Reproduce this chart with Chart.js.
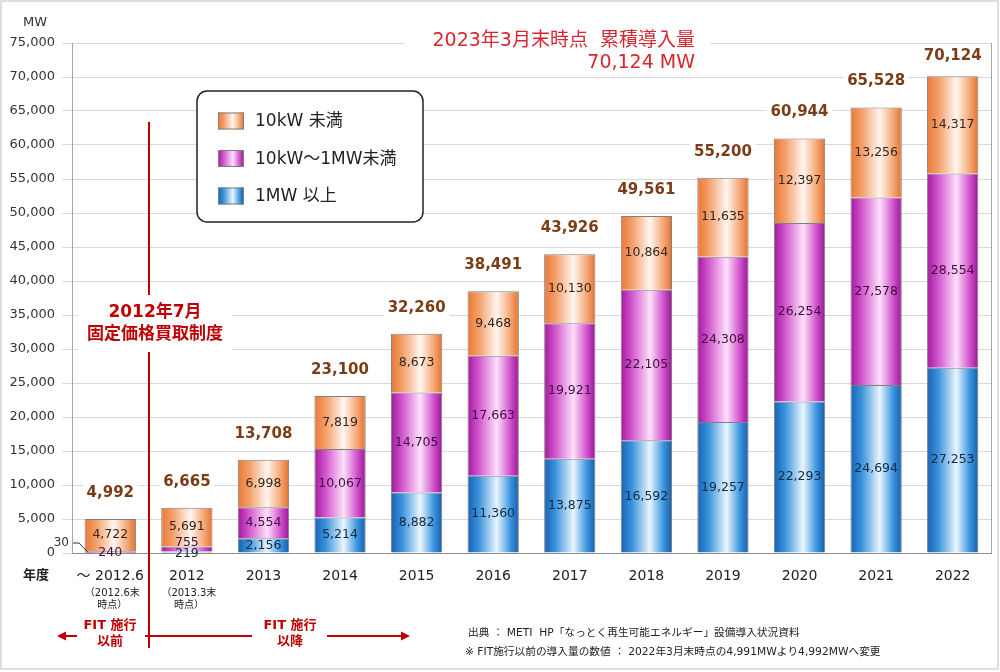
<!DOCTYPE html>
<html lang="ja">
<head>
<meta charset="utf-8">
<title>太陽光発電 累積導入量</title>
<script src="https://cdn.jsdelivr.net/npm/chart.js@4.4.1/dist/chart.umd.min.js"></script>
<style>
  html, body { margin: 0; padding: 0; background: #fff; }
  #wrap { position: relative; width: 1000px; height: 672px; }
</style>
</head>
<body>
<div id="wrap"><canvas id="chart"></canvas></div>
<script>
// data (MW)
const categories = ['～ 2012.6', '2012', '2013', '2014', '2015', '2016', '2017', '2018', '2019', '2020', '2021', '2022'];
const subLabels = [['（2012.6末', '時点）'], ['（2013.3末', '時点）']];
const over1MW = [30, 219, 2156, 5214, 8882, 11360, 13875, 16592, 19257, 22293, 24694, 27253];
const from10kWto1MW = [240, 755, 4554, 10067, 14705, 17663, 19921, 22105, 24308, 26254, 27578, 28554];
const under10kW = [4722, 5691, 6998, 7819, 8673, 9468, 10130, 10864, 11635, 12397, 13256, 14317];
const totals = [4992, 6665, 13708, 23100, 32260, 38491, 43926, 49561, 55200, 60944, 65528, 70124];
const yMax = 75000;
const yStep = 5000;

const FONT = '"DejaVu Sans", "Noto Sans CJK JP", sans-serif';
const BAR_PCT = 0.67;
const RED = '#c00000';

const fmt = v => Number(v).toLocaleString('en-US');

// cylinder-like shading, left edge -> highlight -> right edge
const stops = [0, 0.22, 0.57, 0.83, 1];
const palette = {
  under: ['#ea7836', '#f49e68', '#fff6f0', '#f5a877', '#e5702b'],
  mid:   ['#a2189e', '#d257ce', '#fde0fb', '#d154cd', '#9a1495'],
  over:  ['#1762b2', '#3b93dc', '#eaf6fe', '#3d96df', '#145dac']
};

function cylinder(ctx, x0, x1, colors) {
  const g = ctx.createLinearGradient(x0, 0, x1, 0);
  colors.forEach((c, i) => g.addColorStop(stops[i], c));
  return g;
}

function barFill(colors) {
  return (c) => {
    const chart = c.chart;
    const xs = chart.scales.x;
    if (!chart.chartArea || !xs || c.dataIndex === undefined) return colors[0];
    const cx = xs.getPixelForValue(c.dataIndex);
    const half = xs.width / categories.length * BAR_PCT / 2;
    return cylinder(chart.ctx, cx - half, cx + half, colors);
  };
}

const segTextColor = ['#112a45', '#3f0f3c', '#33261d'];

function whiteBox(ctx, x, y, w, h) {
  ctx.fillStyle = '#fff';
  ctx.fillRect(x, y, w, h);
}

const decor = {
  id: 'decor',
  afterDatasetsDraw(chart) {
    const { ctx, chartArea, scales: { x, y } } = chart;
    ctx.save();

    // right frame of the plot
    ctx.strokeStyle = '#a6a6a6';
    ctx.lineWidth = 1;
    ctx.beginPath();
    ctx.moveTo(chartArea.right + 0.5, chartArea.top);
    ctx.lineTo(chartArea.right + 0.5, chartArea.bottom);
    ctx.stroke();

    // values inside the segments
    ctx.font = `12.5px ${FONT}`;
    ctx.textAlign = 'center';
    ctx.textBaseline = 'middle';
    chart.data.datasets.forEach((ds, i) => {
      const meta = chart.getDatasetMeta(i);
      meta.data.forEach((el, j) => {
        const v = ds.data[j];
        if (v < 100) return; // shown at the axis instead
        const top = el.y, base = el.base;
        let ty = (top + base) / 2;
        if (base - top < 14) {
          if (i === 0) ty = base + 1;
          else ty = chart.data.datasets[0].data[j] >= 100 ? top - 4 : base;
        }
        ctx.fillStyle = segTextColor[i];
        ctx.fillText(fmt(v), el.x, ty);
      });
    });

    // tiny first value with leader line
    const first = chart.getDatasetMeta(0).data[0];
    const y0 = chartArea.bottom;
    ctx.fillStyle = '#333';
    ctx.textAlign = 'right';
    ctx.font = `12px ${FONT}`;
    ctx.fillText(fmt(over1MW[0]), chartArea.left - 3, y0 - 10);
    ctx.strokeStyle = '#333';
    ctx.beginPath();
    ctx.moveTo(chartArea.left + 1, y0 - 10);
    ctx.lineTo(chartArea.left + 7, y0 - 10);
    ctx.lineTo(first.x - first.width / 2 + 3, y0 - 1);
    ctx.stroke();

    // totals above the stacks
    ctx.font = `bold 15px ${FONT}`;
    ctx.textAlign = 'center';
    totals.forEach((t, j) => {
      const cx = x.getPixelForValue(j);
      const ty = Math.max(y.getPixelForValue(t) - 26, 56);
      const w = ctx.measureText(fmt(t)).width + 8;
      whiteBox(ctx, cx - w / 2, ty - 10, w, 20);
      ctx.fillStyle = '#7a3d17';
      ctx.fillText(fmt(t), cx, ty);
    });

    ctx.restore();
  },
  afterDraw(chart) {
    const { ctx, scales: { x } } = chart;
    ctx.save();

    // headline
    whiteBox(ctx, 405, 28, 305, 48);
    ctx.fillStyle = '#d7262e';
    ctx.font = `19px ${FONT}`;
    ctx.textAlign = 'right';
    ctx.textBaseline = 'middle';
    ctx.fillText('2023年3月末時点  累積導入量', 695, 41);
    ctx.fillText('70,124 MW', 695, 63);

    // unit
    ctx.fillStyle = '#333';
    ctx.font = `13px ${FONT}`;
    ctx.textAlign = 'center';
    ctx.fillText('MW', 35, 23);

    // legend
    const lx = 197, ly = 91, lw = 226, lh = 131;
    ctx.beginPath();
    ctx.roundRect(lx, ly, lw, lh, 10);
    ctx.fillStyle = '#fff';
    ctx.fill();
    ctx.strokeStyle = '#222';
    ctx.lineWidth = 1.5;
    ctx.stroke();
    const legendItems = [
      ['10kW 未満', palette.under],
      ['10kW～1MW未満', palette.mid],
      ['1MW 以上', palette.over]
    ];
    ctx.font = `17px ${FONT}`;
    ctx.textAlign = 'left';
    legendItems.forEach(([label, colors], k) => {
      const cy = 121 + k * 37.5;
      ctx.fillStyle = cylinder(ctx, 218, 244, colors);
      ctx.fillRect(218, cy - 8.5, 26, 17);
      ctx.strokeStyle = '#7f7f7f';
      ctx.lineWidth = 1;
      ctx.strokeRect(218.5, cy - 8, 25, 16);
      ctx.fillStyle = '#222';
      ctx.fillText(label, 255, cy + 1);
    });

    // x-axis extras
    ctx.fillStyle = '#222';
    ctx.font = `bold 13px ${FONT}`;
    ctx.textAlign = 'center';
    ctx.fillText('年度', 36, 576);
    ctx.font = `10px ${FONT}`;
    subLabels.forEach((lines, j) => {
      const cx = x.getPixelForValue(j) + 2;
      lines.forEach((s, k) => ctx.fillText(s, cx, 593 + k * 12));
    });

    // FIT start line
    const fx = Math.round((x.getPixelForValue(0) + x.getPixelForValue(1)) / 2);
    whiteBox(ctx, 78, 295, 154, 57);
    ctx.strokeStyle = RED;
    ctx.lineWidth = 2;
    ctx.beginPath();
    ctx.moveTo(fx, 122); ctx.lineTo(fx, 295);
    ctx.moveTo(fx, 352); ctx.lineTo(fx, 648);
    ctx.stroke();
    ctx.fillStyle = RED;
    ctx.font = `bold 17px ${FONT}`;
    ctx.fillText('2012年7月', fx + 6, 313);
    ctx.fillText('固定価格買取制度', fx + 6, 335);

    // FIT before / after arrows
    const ay = 636;
    const arrowHead = (tipX, dir) => {
      ctx.beginPath();
      ctx.moveTo(tipX, ay);
      ctx.lineTo(tipX - dir * 9, ay - 4.5);
      ctx.lineTo(tipX - dir * 9, ay + 4.5);
      ctx.closePath();
      ctx.fill();
    };
    ctx.lineWidth = 2;
    ctx.beginPath();
    ctx.moveTo(64, ay); ctx.lineTo(77, ay);
    ctx.moveTo(fx - 4, ay); ctx.lineTo(252, ay);
    ctx.moveTo(327, ay); ctx.lineTo(402, ay);
    ctx.stroke();
    arrowHead(57, -1);
    arrowHead(410, 1);
    ctx.font = `bold 13px ${FONT}`;
    ctx.fillText('FIT 施行', 110, 626);
    ctx.fillText('以前', 110, 642);
    ctx.fillText('FIT 施行', 290, 626);
    ctx.fillText('以降', 290, 642);

    // source notes
    ctx.fillStyle = '#222';
    ctx.font = `10.7px ${FONT}`;
    ctx.textAlign = 'left';
    ctx.fillText('出典 ： METI  HP「なっとく再生可能エネルギー」設備導入状況資料', 468, 633);
    ctx.fillText('※ FIT施行以前の導入量の数値 ： 2022年3月末時点の4,991MWより4,992MWへ変更', 465, 652);

    // picture frame
    ctx.strokeStyle = '#d4d4d4';
    ctx.lineWidth = 1.5;
    ctx.strokeRect(1, 1, 997, 668);

    ctx.restore();
  }
};

const dataset = (label, data, colors) => ({
  label,
  data,
  backgroundColor: barFill(colors),
  borderColor: '#808080',
  borderWidth: 1,
  barPercentage: BAR_PCT,
  categoryPercentage: 1
});

new Chart(document.getElementById('chart'), {
  type: 'bar',
  data: {
    labels: categories,
    datasets: [
      dataset('1MW 以上', over1MW, palette.over),
      dataset('10kW～1MW未満', from10kWto1MW, palette.mid),
      dataset('10kW 未満', under10kW, palette.under)
    ]
  },
  options: {
    responsive: true,
    maintainAspectRatio: false,
    animation: false,
    layout: { padding: { top: 43, right: 9, bottom: 0, left: 0 } },
    plugins: {
      legend: { display: false },
      tooltip: { enabled: false }
    },
    scales: {
      x: {
        stacked: true,
        grid: { display: false, drawTicks: false },
        border: { display: true, color: '#8c8c8c' },
        ticks: {
          color: '#222',
          font: { family: FONT, size: 14 },
          padding: 15,
          maxRotation: 0,
          autoSkip: false
        },
        afterFit: s => { s.height = 119; }
      },
      y: {
        stacked: true,
        min: 0,
        max: yMax,
        grid: { color: '#d9d9d9', tickLength: 10 },
        border: { display: true, color: '#a6a6a6' },
        ticks: {
          stepSize: yStep,
          color: '#333',
          padding: 7,
          font: { family: FONT, size: 13 },
          callback: v => fmt(v)
        },
        afterFit: s => { s.width = 72; }
      }
    }
  },
  plugins: [decor]
});
</script>
</body>
</html>
